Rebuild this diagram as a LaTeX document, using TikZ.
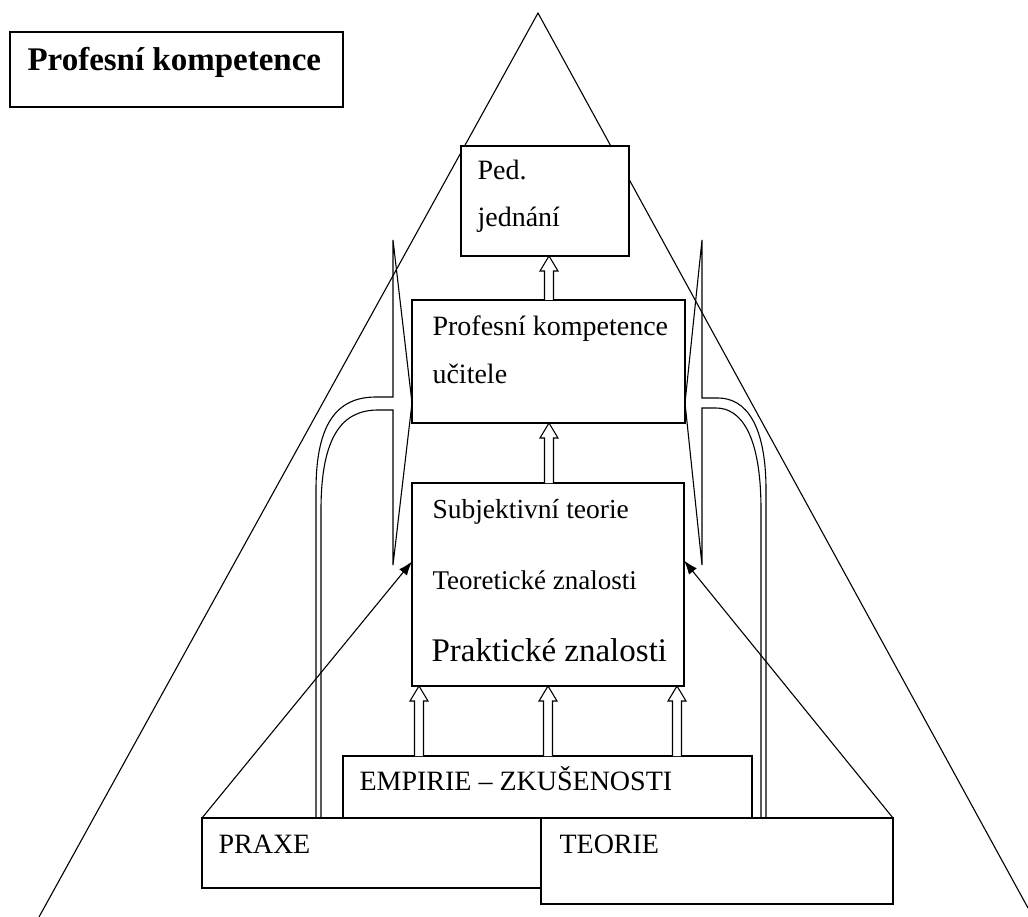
\documentclass[tikz,border=0pt]{standalone}
\usepackage{fontspec}
\setmainfont{Liberation Serif}
\usetikzlibrary{arrows.meta}

% hollow block arrow: x, lower box, upper box
\newcommand{\blockup}[3]{%
  \path (#1,0 |- #2.north) coordinate (bs) (#1,0 |- #3.south) coordinate (bt);
  \draw[fill=white] ([xshift=-4.5pt]bs) -- ([xshift=-4.5pt,yshift=-15pt]bt)
    -- ([xshift=-9pt,yshift=-15pt]bt) -- (bt) -- ([xshift=9pt,yshift=-15pt]bt)
    -- ([xshift=4.5pt,yshift=-15pt]bt) -- ([xshift=4.5pt]bs);
}

\begin{document}
\begin{tikzpicture}[x=1pt, y=-1pt, line width = 1.1pt,
                    box/.style = {rectangle, draw, fill = white, anchor = north west,
                                  inner sep = 0pt, outer sep = 0pt},
                    txt/.style = {anchor = base west, inner sep = 0pt,
                                  font = \fontsize{28}{34}\selectfont}]

\useasboundingbox (0,0) rectangle (1028,917);

% big triangle
\draw (39,917) -- (538,13) -- (1028,908);

% boxes
\node [box, minimum width = 333pt, minimum height = 75pt] (titlebox) at (10,32) {};
\node [box, minimum width = 168pt, minimum height = 110pt] (pedbox) at (461,146) {};
\node [box, minimum width = 273pt, minimum height = 123pt] (kompbox) at (412,300) {};
\node [box, minimum width = 272pt, minimum height = 203pt] (znalbox) at (412,483) {};
\node [box, minimum width = 409pt, minimum height = 62pt] (empbox) at (343,756) {};
\node [box, minimum width = 398pt, minimum height = 70pt] (praxbox) at (202,818) {};
\node [box, minimum width = 352pt, minimum height = 86pt] (teorbox) at (541,818) {};

% texts
\node [txt, font = \bfseries\fontsize{33}{38}\selectfont] (title) at ([xshift=17pt,yshift=-39pt]titlebox.north west) {Profesní kompetence};
\node [txt] (ped1) at ([xshift=16pt,yshift=-34pt]pedbox.north west) {Ped.};
\node [txt] (ped2) at ([xshift=16pt,yshift=-81pt]pedbox.north west) {jednání};
\node [txt] (komp1) at ([xshift=20pt,yshift=-35pt]kompbox.north west) {Profesní kompetence};
\node [txt] (komp2) at ([xshift=20pt,yshift=-83pt]kompbox.north west) {učitele};
\node [txt, font = \fontsize{27.5}{34}\selectfont] (znal1) at ([xshift=20pt,yshift=-35pt]znalbox.north west) {Subjektivní teorie};
\node [txt, font = \fontsize{27}{34}\selectfont] (znal2) at ([xshift=20pt,yshift=-106pt]znalbox.north west) {Teoretické znalosti};
\node [txt, font = \fontsize{33}{38}\selectfont] (znal3) at ([xshift=19pt,yshift=-178pt]znalbox.north west) {Praktické znalosti};
\node [txt] (emp) at ([xshift=16pt,yshift=-34pt]empbox.north west) {EMPIRIE – ZKUŠENOSTI};
\node [txt] (prax) at ([xshift=16pt,yshift=-35pt]praxbox.north west) {PRAXE};
\node [txt] (teor) at ([xshift=18pt,yshift=-35pt]teorbox.north west) {TEORIE};

% hollow arrows between boxes
\blockup{549}{kompbox}{pedbox}
\blockup{549}{znalbox}{kompbox}
\blockup{419}{empbox}{znalbox}
\blockup{548}{empbox}{znalbox}
\blockup{677}{empbox}{znalbox}

% curved arrows with tall heads
\draw (316,0 |- praxbox.north) -- (316,490) .. controls (316,425) and (336,397) .. (376,397)
  -- (393,397) -- (393,240) -- (kompbox.west |- 0,403) -- (393,565) -- (393,410)
  -- (378,410) .. controls (343,410) and (321,435) .. (321,510) -- (321,0 |- praxbox.north);
\draw (766,0 |- teorbox.north) -- (766,490) .. controls (766,425) and (746,398) .. (718,398)
  -- (702,398) -- (702,240) -- (kompbox.east |- 0,403) -- (702,565) -- (702,408)
  -- (716,408) .. controls (741,408) and (761,435) .. (761,510) -- (761,0 |- teorbox.north);

% thin arrows
\draw [-{Latex[length=14pt,width=10pt]}] (praxbox.north west) -- ([yshift=23pt]znalbox.west);
\draw [-{Latex[length=14pt,width=10pt]}] (teorbox.north east) -- ([yshift=24pt]znalbox.east);
\end{tikzpicture}
\end{document}
